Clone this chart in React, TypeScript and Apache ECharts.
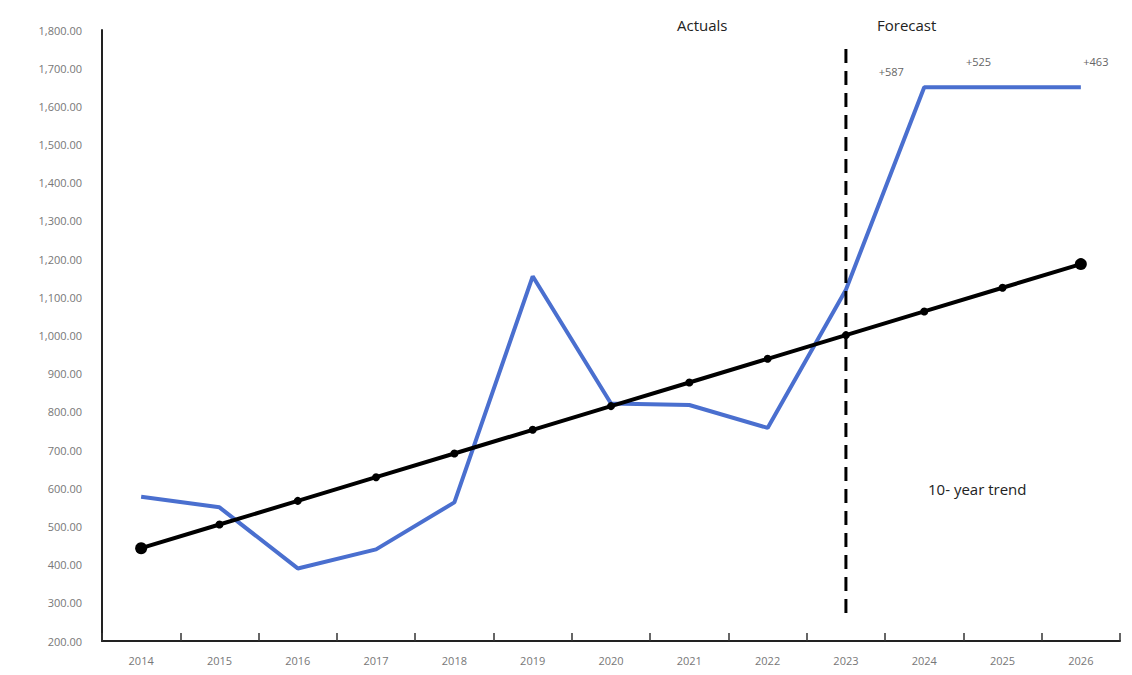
import React, { useEffect, useRef } from "react";
import * as echarts from "echarts";

const years = ["2014", "2015", "2016", "2017", "2018", "2019", "2020", "2021", "2022", "2023", "2024", "2025", "2026"];
const actualsForecast = [578, 550, 390, 440, 563, 1155, 822, 818, 758, 1120, 1650, 1650, 1650];
const trend = [443, 505, 567, 629, 691, 753, 815, 877, 939, 1001, 1063, 1125, 1187];
const forecastLabels = ["", "", "", "", "", "", "", "", "", "", "+587", "+525", "+463"];
const dividerCategory = "2023";
const dividerRange = [1750, 255];
const yMin = 200;
const yMax = 1800;
const yStep = 100;

const labelOffsets: Record<number, number[]> = { 10: [-33, -16], 11: [-24, -26], 12: [15, -26] };

export default function App() {
  const ref = useRef<HTMLDivElement>(null);
  useEffect(() => {
    if (!ref.current) return;
    const chart = echarts.init(ref.current, null, { renderer: "svg" });
    const font = "'Open Sans', 'Liberation Sans', sans-serif";
    chart.setOption({
      animation: false,
      backgroundColor: "#ffffff",
      grid: { left: 102, right: 12, top: 30, bottom: 34 },
      xAxis: {
        type: "category",
        data: years,
        boundaryGap: true,
        axisLine: { lineStyle: { color: "#222", width: 2 } },
        axisTick: { show: true, inside: true, length: 8, lineStyle: { color: "#333", width: 1.5 } },
        axisLabel: { color: "#777", fontSize: 11, fontFamily: font, margin: 14 },
        splitLine: { show: false },
      },
      yAxis: {
        type: "value",
        min: yMin,
        max: yMax,
        interval: yStep,
        axisLine: { show: true, lineStyle: { color: "#222", width: 2 } },
        axisTick: { show: false },
        splitLine: { show: false },
        axisLabel: {
          color: "#777",
          fontSize: 11,
          fontFamily: font,
          margin: 20,
          formatter: (v: number) =>
            v.toLocaleString("en-US", { minimumFractionDigits: 2, maximumFractionDigits: 2 }),
        },
      },
      series: [
        {
          type: "line",
          name: "Actuals / Forecast",
          data: actualsForecast.map((v, i) => ({
            value: v,
            label: forecastLabels[i]
              ? {
                  show: true,
                  formatter: forecastLabels[i],
                  position: "inside",
                  offset: labelOffsets[i],
                  color: "#666",
                  fontSize: 11,
                  fontFamily: font,
                }
              : { show: false },
          })),
          showSymbol: true,
          symbol: "circle",
          symbolSize: 0.1,
          lineStyle: { color: "#4a6fcf", width: 4 },
          itemStyle: { color: "#4a6fcf" },
          z: 2,
        },
        {
          type: "line",
          name: "10-year trend",
          data: trend.map((v, i) => ({
            value: v,
            symbolSize: i === 0 || i === trend.length - 1 ? 12 : 8,
          })),
          symbol: "circle",
          lineStyle: { color: "#000", width: 4 },
          itemStyle: { color: "#000" },
          z: 3,
        },
        {
          type: "line",
          name: "divider",
          data: dividerRange.map((v) => [dividerCategory, v]),
          symbol: "none",
          lineStyle: { color: "#000", width: 3, type: [14, 8] },
          z: 4,
        },
      ],
      graphic: [
        { type: "text", left: 677, top: 17, style: { text: "Actuals", fontSize: 15, fontFamily: font, fill: "#222" } },
        { type: "text", left: 877, top: 17, style: { text: "Forecast", fontSize: 15, fontFamily: font, fill: "#222" } },
        { type: "text", left: 928, top: 481, style: { text: "10- year trend", fontSize: 15, fontFamily: font, fill: "#222" } },
      ],
    });
    return () => chart.dispose();
  }, []);
  return <div ref={ref} style={{ width: 1132, height: 675, position: "absolute", left: 0, top: 0 }} />;
}
